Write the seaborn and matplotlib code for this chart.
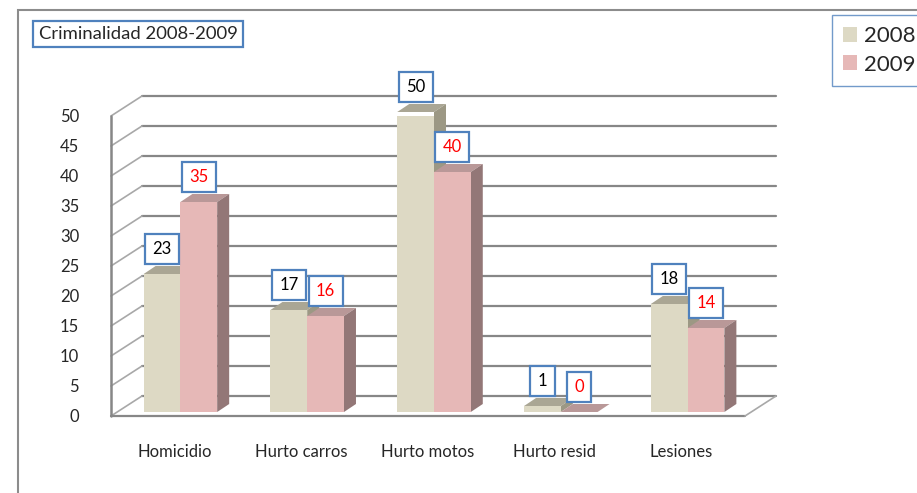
import matplotlib
matplotlib.use('Agg')
import matplotlib.pyplot as plt
import matplotlib.transforms as mtransforms
from matplotlib.patches import Polygon, Patch, Rectangle
import pandas as pd
import seaborn as sns

# datos
categorias = ['Homicidio', 'Hurto carros', 'Hurto motos', 'Hurto resid', 'Lesiones']
valores_2008 = [23, 17, 50, 1, 18]
valores_2009 = [35, 16, 40, 0, 14]
anios = ['2008', '2009']

df = pd.DataFrame({
    'categoria': categorias * 2,
    'valor': valores_2008 + valores_2009,
    'anio': [anios[0]] * len(categorias) + [anios[1]] * len(categorias),
})

sns.set_style('white')
plt.rcParams['font.family'] = ['Lato', 'DejaVu Sans']

colores = {'2008': '#DDD9C4', '2009': '#E6B8B7'}
lados = {'2008': '#9C9884', '2009': '#937777'}
techos = {'2008': '#AAA694', '2009': '#B99898'}
color_texto = {'2008': 'black', '2009': 'red'}
gris = '#878787'
azul = '#4F81BD'

fig = plt.figure(figsize=(9.17, 4.93), dpi=100)
ax = fig.add_axes([111 / 917, (493 - 416) / 493, 634 / 917, 300 / 493])

sns.barplot(data=df, x='categoria', y='valor', hue='anio', palette=colores,
            width=0.58, saturation=1, legend=False, ax=ax)

ax.set_xlim(-0.5, 4.5)
ax.set_ylim(0, 50)
for s in ax.spines.values():
    s.set_visible(False)
ax.set_xlabel('')
ax.set_ylabel('')

# conversion pixeles -> datos
caja = ax.get_window_extent()
ux = 5 / caja.width
uy = 50 / caja.height
fondo_x, fondo_y = 31 * ux, 20 * uy
prof_x, prof_y = 12 * ux, 8 * uy

# paredes y piso
for v in range(0, 55, 5):
    ax.plot([-0.5 + fondo_x, 4.5 + fondo_x], [v + fondo_y] * 2, color=gris, lw=1.6,
            clip_on=False, zorder=1)
    ax.plot([-0.5, -0.5 + fondo_x], [v, v + fondo_y], color='#a8a8a8', lw=1.2,
            clip_on=False, zorder=1)
ax.plot([-0.5, -0.5], [0, 50], color=gris, lw=1.8, clip_on=False, zorder=1)
ax.plot([-0.5, 4.5], [0, 0], color=gris, lw=1.6, clip_on=False, zorder=1)
ax.plot([4.5, 4.5 + fondo_x], [0, fondo_y], color='#a8a8a8', lw=1.2, clip_on=False, zorder=1)

# barras en 3D
desplaz = ax.transData + mtransforms.ScaledTranslation(6 / 100, 4 / 100, fig.dpi_scale_trans)
for k, (cont, anio) in enumerate(zip(ax.containers, anios)):
    z = 3 + k
    for barra in cont:
        x0 = barra.get_x()
        w = barra.get_width()
        h = barra.get_height()
        barra.set_transform(desplaz)
        barra.set_edgecolor('none')
        barra.set_zorder(z + 0.2)
        techo = Polygon([(x0, h), (x0 + w, h), (x0 + w + prof_x, h + prof_y), (x0 + prof_x, h + prof_y)],
                        closed=True, fc=techos[anio], ec='none', transform=desplaz, zorder=z,
                        clip_on=False)
        lado = Polygon([(x0 + w, 0), (x0 + w + prof_x, prof_y), (x0 + w + prof_x, h + prof_y), (x0 + w, h)],
                       closed=True, fc=lados[anio], ec='none', transform=desplaz, zorder=z,
                       clip_on=False)
        ax.add_patch(techo)
        ax.add_patch(lado)
        ax.annotate(str(int(h)), xy=(x0 + w / 2, h), xycoords=desplaz,
                    textcoords='offset pixels', xytext=(0, 25), ha='center', va='center',
                    fontsize=12, color=color_texto[anio], zorder=10, annotation_clip=False,
                    bbox=dict(boxstyle='square,pad=0.44', fc='white', ec=azul, lw=1.6))

# ejes
ax.set_yticks(range(0, 55, 5))
ax.tick_params(axis='y', length=5, color=gris, width=1.6, pad=18, labelsize=12)
ax.set_xticks(range(len(categorias)))
ax.set_xticklabels(categorias)
ax.tick_params(axis='x', which='major', length=0, pad=20, labelsize=12)
ax.set_xticks([0.5, 1.5, 2.5, 3.5, 4.5], minor=True)
ax.tick_params(axis='x', which='minor', length=4, width=1.5, color=gris, direction='out')

# titulo
fig.text(138 / 917, 1 - 34 / 493, 'Criminalidad 2008-2009', ha='center', va='center', fontsize=13.3,
         bbox=dict(boxstyle='square,pad=0.28', fc='white', ec=azul, lw=1.6))

# leyenda
manejadores = [Patch(fc=colores[a], ec='none') for a in anios]
fig.legend(manejadores, anios, loc='upper left', bbox_to_anchor=(832 / 917, 1 - 15 / 493),
           fontsize=16, frameon=True, fancybox=False, edgecolor=azul, handlelength=0.63,
           handleheight=0.63, handletextpad=0.3, labelspacing=0.38, borderpad=0.5,
           borderaxespad=0)

# borde del grafico
fig.add_artist(Rectangle((18 / 917, -0.2), 1.0, 1.2 - 10 / 493, transform=fig.transFigure,
                         fill=False, ec='#8c8c8c', lw=1.5))

fig.savefig('out.png', dpi=100)
